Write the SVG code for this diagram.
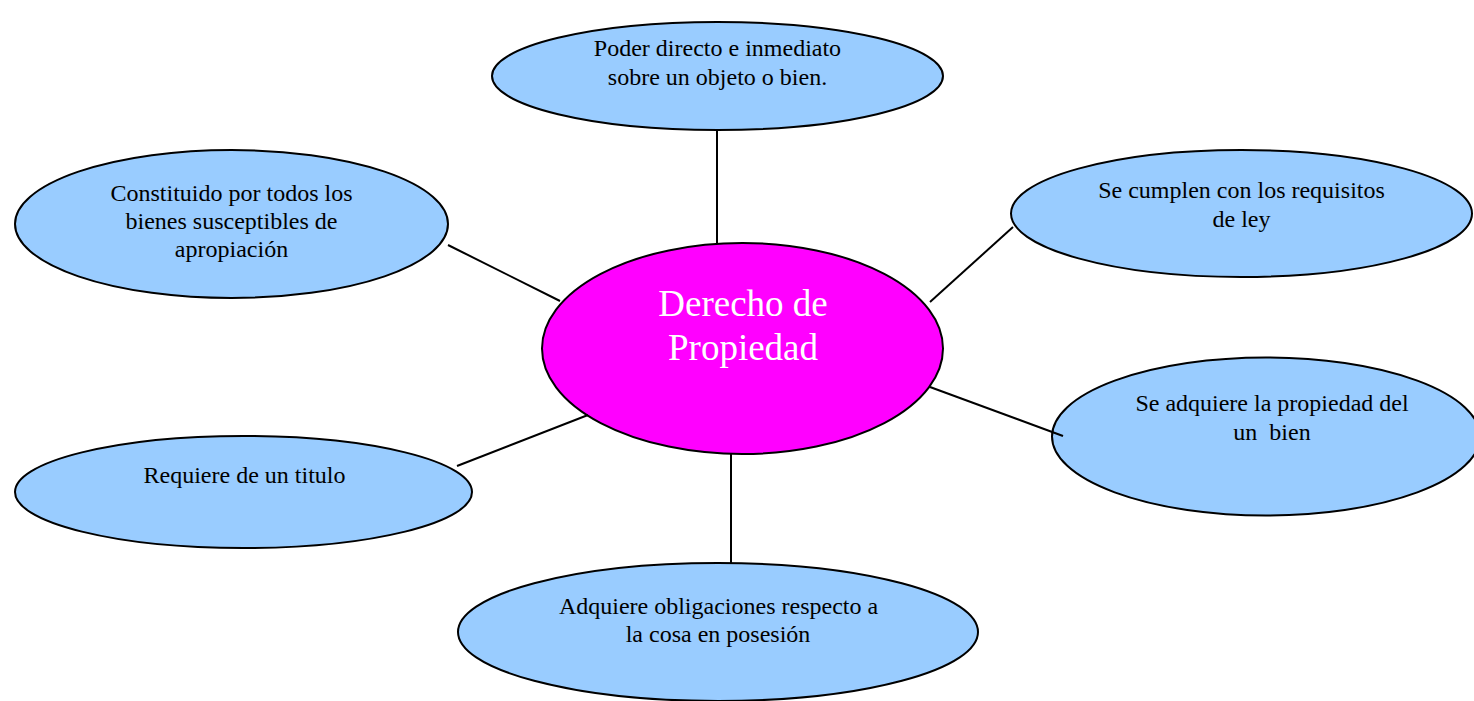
<svg xmlns="http://www.w3.org/2000/svg" width="1474" height="701" viewBox="0 0 1474 701">
<style>
.n{fill:#99CCFF;stroke:#000;stroke-width:2}
.c{fill:#FF00FF;stroke:#000;stroke-width:2}
.t{font-family:"Liberation Serif","Times New Roman",serif;font-size:24px;fill:#000;text-anchor:middle;white-space:pre}
.tc{font-family:"Liberation Serif","Times New Roman",serif;font-size:37px;fill:#fff;text-anchor:middle}
line{stroke:#000;stroke-width:2}
</style>
<rect width="1474" height="701" fill="#fff"/>
<g id="top">
<ellipse class="n" cx="717.5" cy="76" rx="225.5" ry="54"/>
<text class="t" x="717.5" y="56">Poder directo e inmediato</text>
<text class="t" x="717.5" y="85">sobre un objeto o bien.</text>
</g>
<g id="leftTop">
<ellipse class="n" cx="231.5" cy="224" rx="216.5" ry="74"/>
<text class="t" x="231.5" y="201">Constituido por todos los</text>
<text class="t" x="231.5" y="229">bienes susceptibles de</text>
<text class="t" x="231.5" y="257">apropiación</text>
</g>
<g id="rightTop">
<ellipse class="n" cx="1241.5" cy="213.5" rx="230.5" ry="63.5"/>
<text class="t" x="1241.5" y="198">Se cumplen con los requisitos</text>
<text class="t" x="1241.5" y="227">de ley</text>
</g>
<g id="center">
<ellipse class="c" cx="742.5" cy="348.5" rx="200.5" ry="105.5"/>
<text class="tc" x="743" y="316">Derecho de</text>
<text class="tc" x="743" y="360">Propiedad</text>
</g>
<g id="rightMiddle">
<ellipse class="n" cx="1266" cy="436.5" rx="214" ry="79"/>
<text class="t" x="1272" y="411">Se adquiere la propiedad del</text>
<text class="t" x="1272" y="440" xml:space="preserve">un  bien</text>
</g>
<g id="leftBottom">
<ellipse class="n" cx="243.5" cy="492" rx="228.5" ry="56"/>
<text class="t" x="244.5" y="483">Requiere de un titulo</text>
</g>
<g id="bottom">
<ellipse class="n" cx="718" cy="632" rx="260" ry="69"/>
<text class="t" x="718.5" y="614">Adquiere obligaciones respecto a</text>
<text class="t" x="718" y="642">la cosa en posesión</text>
</g>
<g id="connectors">
<line x1="717" y1="130" x2="717" y2="243"/>
<line x1="448" y1="245" x2="560" y2="301"/>
<line x1="1013" y1="227" x2="930" y2="302"/>
<line x1="930" y1="387" x2="1063" y2="436"/>
<line x1="457" y1="466" x2="588" y2="415"/>
<line x1="731" y1="454" x2="731" y2="563"/>
</g>
</svg>
